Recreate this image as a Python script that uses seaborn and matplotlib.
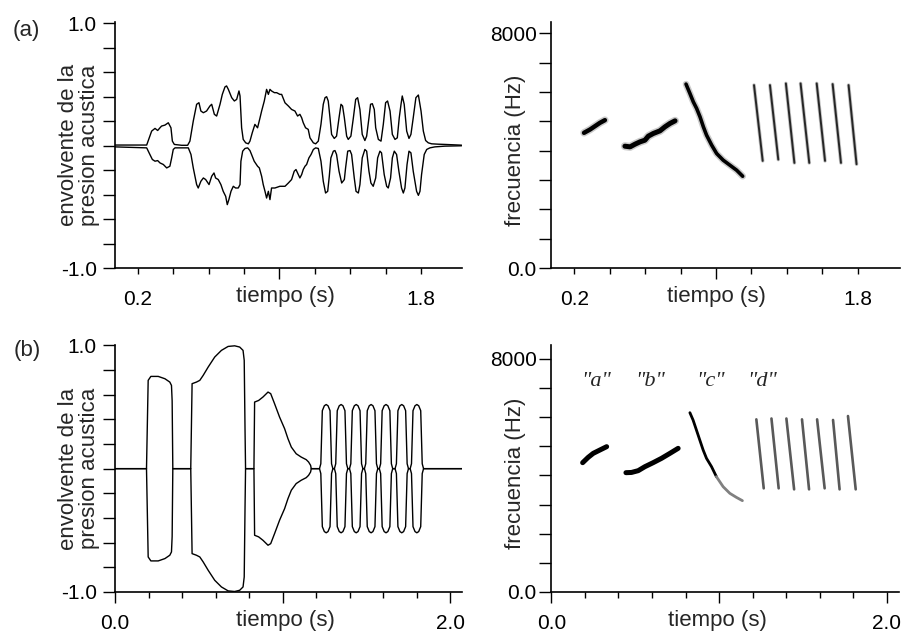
import matplotlib
matplotlib.use("Agg")
import matplotlib.pyplot as plt
from matplotlib.ticker import FixedLocator, FixedFormatter
import pandas as pd
import seaborn as sns

# ---------------- data (time in s, envelope in relative units, frequency in Hz) ----------------
# (a) measured envelope: upper and lower traces
ENV_A_UPPER = [
    (0.072, 0.005), (0.251, 0.005), (0.279, 0.119), (0.298, 0.141), (0.313, 0.124), (0.326, 0.146),
    (0.335, 0.160), (0.354, 0.168), (0.373, 0.187), (0.388, 0.146), (0.396, 0.037), (0.407, 0.010),
    (0.448, 0.003), (0.482, 0.003), (0.495, 0.037), (0.514, 0.201), (0.533, 0.338), (0.546, 0.351),
    (0.557, 0.283), (0.571, 0.269), (0.589, 0.283), (0.608, 0.324), (0.618, 0.338), (0.633, 0.256),
    (0.646, 0.242), (0.665, 0.338), (0.678, 0.419), (0.693, 0.480), (0.702, 0.488), (0.712, 0.460),
    (0.731, 0.392), (0.746, 0.365), (0.759, 0.378), (0.772, 0.447), (0.778, 0.406), (0.787, 0.146),
    (0.796, 0.051), (0.810, 0.023), (0.825, 0.015), (0.834, 0.037), (0.847, 0.105), (0.862, 0.174),
    (0.877, 0.146), (0.891, 0.228), (0.900, 0.283), (0.915, 0.365), (0.928, 0.460), (0.938, 0.419),
    (0.947, 0.460), (0.956, 0.447), (0.972, 0.433), (0.985, 0.433), (1.003, 0.419), (1.013, 0.419),
    (1.032, 0.350), (1.051, 0.324), (1.069, 0.296), (1.088, 0.283), (1.103, 0.242), (1.116, 0.256),
    (1.126, 0.228), (1.135, 0.187), (1.148, 0.146), (1.163, 0.133), (1.173, 0.064), (1.192, 0.023),
    (1.205, 0.015), (1.220, 0.037), (1.235, 0.174), (1.248, 0.338), (1.258, 0.392), (1.267, 0.400),
    (1.276, 0.365), (1.286, 0.228), (1.295, 0.092), (1.310, 0.059), (1.323, 0.078), (1.337, 0.228),
    (1.348, 0.338), (1.357, 0.324), (1.367, 0.228), (1.380, 0.078), (1.389, 0.051), (1.404, 0.078),
    (1.418, 0.228), (1.431, 0.378), (1.442, 0.392), (1.455, 0.296), (1.468, 0.092), (1.483, 0.042),
    (1.493, 0.078), (1.506, 0.228), (1.515, 0.338), (1.525, 0.343), (1.536, 0.296), (1.544, 0.146),
    (1.559, 0.051), (1.574, 0.037), (1.587, 0.174), (1.600, 0.351), (1.611, 0.365), (1.625, 0.283),
    (1.638, 0.092), (1.653, 0.051), (1.666, 0.064), (1.677, 0.228), (1.687, 0.338), (1.694, 0.406),
    (1.705, 0.338), (1.719, 0.119), (1.732, 0.059), (1.743, 0.092), (1.756, 0.228), (1.771, 0.392),
    (1.785, 0.414), (1.800, 0.283), (1.813, 0.119), (1.826, 0.042), (1.841, 0.023), (1.860, 0.015),
    (1.897, 0.012), (1.935, 0.010), (2.029, 0.004),
]
ENV_A_LOWER = [
    (0.072, -0.010), (0.251, -0.018), (0.269, -0.072), (0.283, -0.113), (0.298, -0.127), (0.313, -0.122),
    (0.326, -0.141), (0.345, -0.154), (0.364, -0.182), (0.382, -0.168), (0.392, -0.100), (0.401, -0.031),
    (0.411, -0.018), (0.486, -0.018), (0.501, -0.072), (0.514, -0.182), (0.533, -0.318), (0.542, -0.346),
    (0.557, -0.291), (0.571, -0.264), (0.584, -0.277), (0.603, -0.318), (0.618, -0.250), (0.631, -0.223),
    (0.640, -0.264), (0.655, -0.277), (0.670, -0.318), (0.683, -0.373), (0.697, -0.414), (0.706, -0.482),
    (0.715, -0.441), (0.727, -0.373), (0.740, -0.332), (0.753, -0.346), (0.768, -0.346), (0.778, -0.318),
    (0.783, -0.127), (0.793, -0.045), (0.806, -0.023), (0.821, -0.018), (0.834, -0.040), (0.843, -0.072),
    (0.858, -0.127), (0.877, -0.168), (0.887, -0.182), (0.900, -0.250), (0.909, -0.318), (0.919, -0.373),
    (0.928, -0.428), (0.938, -0.373), (0.947, -0.441), (0.956, -0.346), (0.975, -0.346), (1.003, -0.332),
    (1.022, -0.332), (1.032, -0.332), (1.051, -0.305), (1.069, -0.277), (1.084, -0.209), (1.094, -0.195),
    (1.107, -0.236), (1.116, -0.264), (1.126, -0.236), (1.135, -0.195), (1.145, -0.168), (1.154, -0.154),
    (1.167, -0.100), (1.179, -0.072), (1.192, -0.031), (1.205, -0.018), (1.220, -0.023), (1.235, -0.127),
    (1.248, -0.291), (1.261, -0.387), (1.273, -0.373), (1.282, -0.250), (1.291, -0.100), (1.305, -0.045),
    (1.314, -0.040), (1.323, -0.072), (1.337, -0.209), (1.352, -0.305), (1.367, -0.277), (1.374, -0.182),
    (1.386, -0.045), (1.399, -0.040), (1.408, -0.072), (1.423, -0.264), (1.433, -0.373), (1.446, -0.387),
    (1.455, -0.318), (1.468, -0.100), (1.483, -0.031), (1.493, -0.045), (1.506, -0.209), (1.517, -0.305),
    (1.530, -0.332), (1.544, -0.264), (1.555, -0.100), (1.568, -0.045), (1.577, -0.059), (1.592, -0.236),
    (1.606, -0.332), (1.615, -0.346), (1.628, -0.264), (1.638, -0.100), (1.649, -0.045), (1.662, -0.072),
    (1.675, -0.209), (1.690, -0.346), (1.700, -0.387), (1.709, -0.346), (1.721, -0.154), (1.732, -0.045),
    (1.743, -0.059), (1.756, -0.209), (1.775, -0.373), (1.785, -0.406), (1.794, -0.373), (1.803, -0.236),
    (1.818, -0.072), (1.832, -0.031), (1.850, -0.018), (1.878, -0.010), (1.935, -0.004), (2.029, -0.001),
]

# (b) model envelope amplitude (drawn as +amp and -amp)
ENV_B_AMP = [
    (0.000, 0.0), (0.188, 0.0), (0.198, 0.716), (0.214, 0.748), (0.258, 0.748), (0.298, 0.729),
    (0.327, 0.702), (0.337, 0.675), (0.341, 0.55), (0.345, 0.0),
    (0.452, 0.0), (0.460, 0.689), (0.486, 0.702), (0.506, 0.716), (0.526, 0.756), (0.556, 0.824),
    (0.595, 0.905), (0.635, 0.959), (0.675, 0.991), (0.714, 0.996), (0.744, 0.986), (0.764, 0.959),
    (0.771, 0.878), (0.776, 0.30), (0.779, 0.0),
    (0.829, 0.0), (0.833, 0.540), (0.857, 0.553), (0.883, 0.581), (0.913, 0.621), (0.929, 0.608),
    (0.952, 0.527), (0.982, 0.418), (1.012, 0.324), (1.032, 0.243), (1.052, 0.175), (1.081, 0.121),
    (1.111, 0.094), (1.141, 0.073), (1.155, 0.054), (1.167, 0.027), (1.171, 0.0),
    (1.220, 0.0), (1.228, 0.04), (1.237, 0.47), (1.249, 0.51), (1.260, 0.52), (1.271, 0.51), (1.283, 0.47), (1.292, 0.04), (1.300, 0.0),
    (1.309, 0.0), (1.317, 0.04), (1.326, 0.47), (1.338, 0.51), (1.349, 0.52), (1.360, 0.51), (1.372, 0.47), (1.381, 0.04), (1.389, 0.0),
    (1.399, 0.0), (1.407, 0.04), (1.416, 0.47), (1.428, 0.51), (1.439, 0.52), (1.450, 0.51), (1.462, 0.47), (1.471, 0.04), (1.479, 0.0),
    (1.488, 0.0), (1.496, 0.04), (1.505, 0.47), (1.517, 0.51), (1.528, 0.52), (1.539, 0.51), (1.551, 0.47), (1.560, 0.04), (1.568, 0.0),
    (1.577, 0.0), (1.585, 0.04), (1.594, 0.47), (1.606, 0.51), (1.617, 0.52), (1.628, 0.51), (1.640, 0.47), (1.649, 0.04), (1.657, 0.0),
    (1.671, 0.0), (1.679, 0.04), (1.688, 0.47), (1.700, 0.51), (1.711, 0.52), (1.722, 0.51), (1.734, 0.47), (1.743, 0.04), (1.751, 0.0),
    (1.761, 0.0), (1.769, 0.04), (1.778, 0.47), (1.790, 0.51), (1.801, 0.52), (1.812, 0.51), (1.824, 0.47), (1.833, 0.04), (1.841, 0.0),
    (2.070, 0.0),
]

# (a) measured sonogram traces (time s, frequency Hz)
SONO_A_A = [(0.255, 4609), (0.289, 4722), (0.317, 4836), (0.345, 4950), (0.373, 5041)]
SONO_A_B = [(0.486, 4153), (0.515, 4131), (0.543, 4222), (0.571, 4301), (0.599, 4358), (0.618, 4495),
            (0.646, 4586), (0.684, 4677), (0.712, 4813), (0.740, 4927), (0.769, 5018)]
SONO_A_C = [(0.831, 6270), (0.853, 5951), (0.872, 5667), (0.891, 5439), (0.910, 5155), (0.929, 4813),
            (0.947, 4529), (0.976, 4188), (1.004, 3903), (1.041, 3676), (1.079, 3505), (1.117, 3334),
            (1.151, 3129)]
SONO_A_D_TOP_T = [1.215, 1.305, 1.395, 1.478, 1.569, 1.659, 1.749]
SONO_A_D_TOP_F = [6236, 6236, 6293, 6293, 6293, 6270, 6236]
SONO_A_D_BOT_T = [1.264, 1.352, 1.443, 1.527, 1.616, 1.706, 1.794]
SONO_A_D_BOT_F = [3653, 3698, 3584, 3584, 3653, 3584, 3539]

# (b) model sonogram traces
SONO_B_A = [(0.187, 4435), (0.220, 4618), (0.250, 4755), (0.290, 4870), (0.330, 4984)]
SONO_B_B = [(0.445, 4092), (0.478, 4100), (0.518, 4161), (0.558, 4298), (0.607, 4435), (0.657, 4584),
            (0.707, 4755), (0.756, 4927)]
SONO_B_C_DARK = [(0.826, 6150), (0.845, 5898), (0.865, 5555), (0.885, 5212), (0.905, 4870),
                 (0.925, 4584), (0.955, 4298), (0.984, 3955)]
SONO_B_C_LIGHT = [(0.984, 3955), (1.024, 3612), (1.064, 3384), (1.103, 3246), (1.139, 3132)]
SONO_B_D_TOP_T = [1.222, 1.312, 1.401, 1.494, 1.584, 1.679, 1.768]
SONO_B_D_TOP_F = [5921, 5950, 5950, 5921, 5921, 5900, 6035]
SONO_B_D_BOT_T = [1.266, 1.355, 1.447, 1.536, 1.629, 1.718, 1.814]
SONO_B_D_BOT_F = [3555, 3555, 3520, 3520, 3555, 3520, 3520]

SYLLABLE_LABELS = ['"a"', '"b"', '"c"', '"d"']
SYLLABLE_LABEL_T = [0.270, 0.589, 0.946, 1.258]
SYLLABLE_LABEL_F = [7060, 7060, 7060, 7060]

ENV_LABEL = "envolvente de la\npresion acustica"
FREQ_LABEL = "frecuencia (Hz)"
TIME_LABEL = "tiempo (s)"
ENV_TICKS = [-1.0, -0.8, -0.6, -0.4, -0.2, 0.0, 0.2, 0.4, 0.6, 0.8, 1.0]
ENV_TICKLABELS = ["-1.0", "", "", "", "", "", "", "", "", "", "1.0"]
FREQ_TICKS = [0, 1000, 2000, 3000, 4000, 5000, 6000, 7000, 8000]
FREQ_TICKLABELS = ["0.0", "", "", "", "", "", "", "", "8000"]

# ---------------- style ----------------
sns.set_style("ticks")
plt.rcParams["font.family"] = ["Liberation Sans", "DejaVu Sans"]
plt.rcParams["axes.linewidth"] = 1.2

fig = plt.figure(figsize=(9.04, 6.32), dpi=100)
ax_a1 = fig.add_axes([0.1272, 0.5759, 0.3838, 0.3892])
ax_a2 = fig.add_axes([0.6098, 0.5759, 0.3857, 0.3892])
ax_b1 = fig.add_axes([0.1272, 0.0633, 0.3838, 0.3903])
ax_b2 = fig.add_axes([0.6098, 0.0633, 0.3843, 0.3903])


def df_of(pairs, sign=1.0):
    return pd.DataFrame({"t": [p[0] for p in pairs], "y": [sign * p[1] for p in pairs]})


def strokes_df(tt, tf, bt, bf):
    rows = []
    for i in range(len(tt)):
        rows.append({"t": tt[i], "y": tf[i], "k": i})
        rows.append({"t": bt[i], "y": bf[i], "k": i})
    return pd.DataFrame(rows)


def line(ax, df, color="black", lw=1.0, alpha=1.0, units=None):
    kw = dict(data=df, x="t", y="y", ax=ax, color=color, lw=lw, alpha=alpha,
              sort=False, estimator=None, legend=False)
    if units is not None:
        kw["units"] = units
    sns.lineplot(**kw)


# (a) envelope
line(ax_a1, df_of(ENV_A_UPPER), lw=1.0)
line(ax_a1, df_of(ENV_A_LOWER), lw=1.0)

# (b) envelope
line(ax_b1, df_of(ENV_B_AMP, 1.0), lw=1.0)
line(ax_b1, df_of(ENV_B_AMP, -1.0), lw=1.0)

# (a) sonogram (fuzzy measured traces)
for seg, w in [(SONO_A_A, 3.2), (SONO_A_B, 3.6), (SONO_A_C, 2.6)]:
    line(ax_a2, df_of(seg), color="0.55", lw=w + 2.2, alpha=0.45)
    line(ax_a2, df_of(seg), color="black", lw=w)
dA = strokes_df(SONO_A_D_TOP_T, SONO_A_D_TOP_F, SONO_A_D_BOT_T, SONO_A_D_BOT_F)
line(ax_a2, dA, color="0.6", lw=2.6, alpha=0.6, units="k")
line(ax_a2, dA, color="0.15", lw=1.4, units="k")

# (b) sonogram (model traces)
line(ax_b2, df_of(SONO_B_A), color="black", lw=3.6)
line(ax_b2, df_of(SONO_B_B), color="black", lw=3.6)
line(ax_b2, df_of(SONO_B_C_DARK), color="black", lw=2.0)
line(ax_b2, df_of(SONO_B_C_LIGHT), color="0.5", lw=2.0)
dB = strokes_df(SONO_B_D_TOP_T, SONO_B_D_TOP_F, SONO_B_D_BOT_T, SONO_B_D_BOT_F)
line(ax_b2, dB, color="0.35", lw=1.9, units="k")

for lab, t, f in zip(SYLLABLE_LABELS, SYLLABLE_LABEL_T, SYLLABLE_LABEL_F):
    ax_b2.text(t, f, lab, ha="center", va="baseline", fontsize=16,
               family=["Liberation Serif", "DejaVu Serif"], style="italic")

# ---------------- axes formatting ----------------
LAB = 16
TICKLAB = 15


def setup(ax, xlim, ylim, yticks, ylabels, ylabel, ylab_x, ypad, time_major, time_major_lab,
          time_minor, time_minor_lab, xlab_x):
    sns.despine(ax=ax)
    ax.set_xlim(*xlim)
    ax.set_ylim(*ylim)
    ax.yaxis.set_major_locator(FixedLocator(yticks))
    ax.yaxis.set_major_formatter(FixedFormatter(ylabels))
    ax.tick_params(axis="y", which="major", direction="out", length=8.6, width=1.0,
                   labelsize=TICKLAB, pad=ypad, color="black", labelcolor="black")
    ax.xaxis.set_major_locator(FixedLocator(time_major))
    ax.xaxis.set_major_formatter(FixedFormatter(time_major_lab))
    ax.xaxis.set_minor_locator(FixedLocator(time_minor))
    ax.xaxis.set_minor_formatter(FixedFormatter(time_minor_lab))
    ax.tick_params(axis="x", which="major", direction="out", length=8.0, width=1.0,
                   labelsize=TICKLAB, pad=7.5, color="black", labelcolor="black")
    ax.tick_params(axis="x", which="minor", direction="out", length=4.5, width=1.0,
                   labelsize=TICKLAB, pad=11.0, color="black", labelcolor="black")
    ax.set_ylabel(ylabel, fontsize=LAB, linespacing=1.0)
    ax.yaxis.label.set_va("center")
    ax.yaxis.label.set_ha("center")
    ax.yaxis.set_label_coords(ylab_x, 0.5 if "\n" in ylabel else 0.48)
    ax.set_xlabel(TIME_LABEL, fontsize=LAB)
    ax.xaxis.set_label_coords(xlab_x, -0.075)
    for s in ("left", "bottom"):
        ax.spines[s].set_color("black")
        ax.spines[s].set_linewidth(1.2)


minor_a = [0.2, 0.4, 0.6, 0.8, 1.2, 1.4, 1.6, 1.8]
minor_a_lab = ["0.2", "", "", "", "", "", "", "1.8"]
minor_b = [0.2, 0.4, 0.6, 0.8, 1.2, 1.4, 1.6, 1.8]
minor_b_lab = [""] * 8

setup(ax_a1, (0.072, 2.031), (-1.0, 1.01), ENV_TICKS, ENV_TICKLABELS, ENV_LABEL, -0.104, 4.5,
      [1.0], [""], minor_a, minor_a_lab, 0.49)
setup(ax_a2, (0.070, 2.039), (0, 8385), FREQ_TICKS, FREQ_TICKLABELS, FREQ_LABEL, -0.103, 2.0,
      [1.0], [""], minor_a, minor_a_lab, 0.475)
setup(ax_b1, (0.0, 2.07), (-1.0, 1.0), ENV_TICKS, ENV_TICKLABELS, ENV_LABEL, -0.104, 4.5,
      [0.0, 1.0, 2.0], ["0.0", "", "2.0"], minor_b, minor_b_lab, 0.49)
setup(ax_b2, (0.0, 2.07), (0, 8460), FREQ_TICKS, FREQ_TICKLABELS, FREQ_LABEL, -0.103, 2.0,
      [0.0, 1.0, 2.0], ["0.0", "", "2.0"], minor_b, minor_b_lab, 0.477)

for ax in (ax_a1, ax_a2, ax_b1, ax_b2):
    ax.set_facecolor("white")
    ax.grid(False)

fig.text(0.0288, 0.9525, "(a)", fontsize=16, ha="center", va="center")
fig.text(0.0299, 0.4462, "(b)", fontsize=16, ha="center", va="center")

fig.savefig("out.png", dpi=100, facecolor="white")
